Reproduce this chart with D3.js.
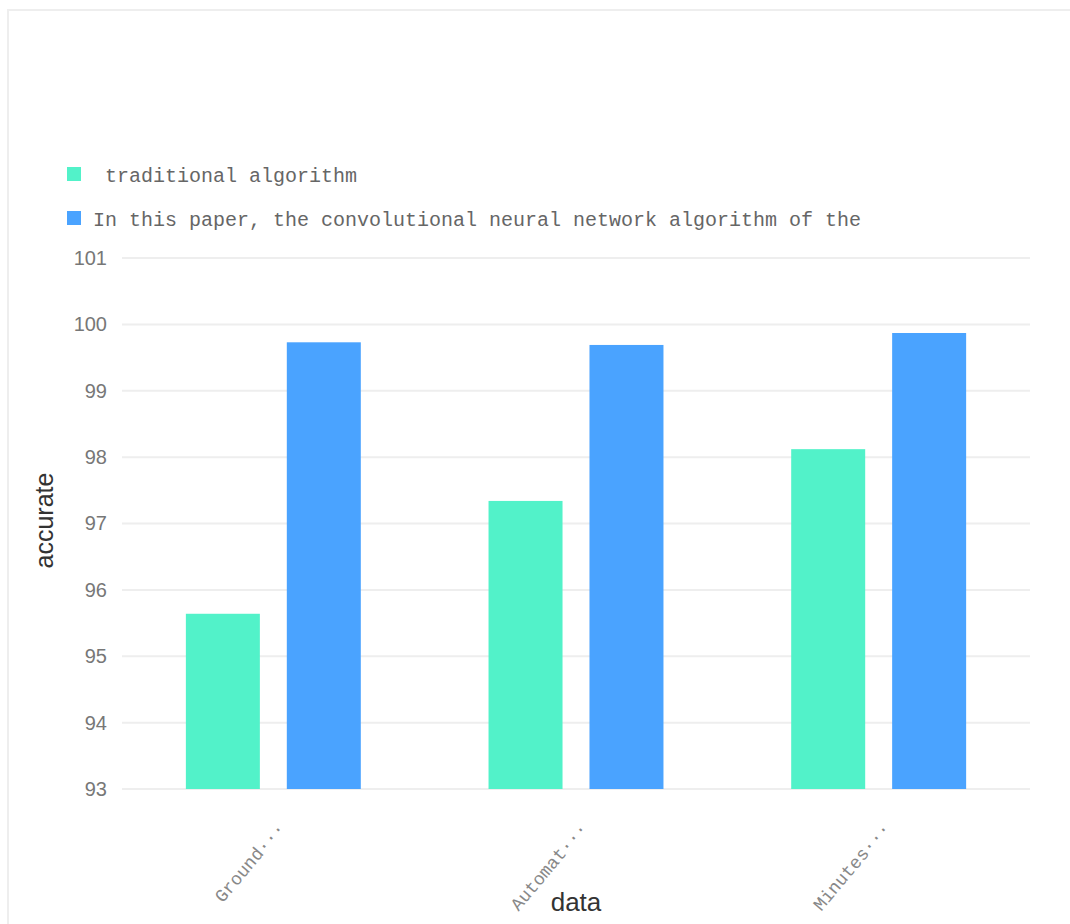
<!DOCTYPE html>
<html><head><meta charset="utf-8">
<script src="https://cdn.jsdelivr.net/npm/d3@7"></script>
<style>body{margin:0;background:#fff;}svg{display:block;}</style>
</head><body>
<svg id="chart" width="1070" height="924"></svg>
<script>
const categories = ["Ground\u00B7\u00B7\u00B7", "Automat\u00B7\u00B7\u00B7", "Minutes\u00B7\u00B7\u00B7"];
const seriesNames = [" traditional algorithm", "In this paper, the convolutional neural network algorithm of the"];
const traditional = [95.64, 97.34, 98.12];
const proposed = [99.73, 99.69, 99.87];
const yTicks = [93, 94, 95, 96, 97, 98, 99, 100, 101];
const colors = ["#52f2c9", "#4aa3ff"];

const svg = d3.select("#chart");
svg.append("rect").attr("x", 8).attr("y", 10).attr("width", 1070).attr("height", 930)
  .attr("fill", "none").attr("stroke", "#eeeeee").attr("stroke-width", 2);

const pLeft = 122, pRight = 1030, pTop = 258, pBottom = 789;
const y = d3.scaleLinear().domain([93, 101]).range([pBottom, pTop]);
const x0 = d3.scaleBand().domain(categories).range([pLeft, pRight]).paddingInner(0.422).paddingOuter(0.211);
const x1 = d3.scaleBand().domain([0, 1]).range([0, x0.bandwidth()]).paddingInner(0.267);

// grid
svg.append("g").selectAll("line").data(yTicks).join("line")
  .attr("x1", pLeft).attr("x2", pRight)
  .attr("y1", d => y(d)).attr("y2", d => y(d))
  .attr("stroke", "#eeeeee").attr("stroke-width", 2);

// y axis labels
const yAxis = d3.axisLeft(y).tickValues(yTicks).tickSize(0).tickPadding(15);
const ya = svg.append("g").attr("transform", `translate(${pLeft},0)`).call(yAxis);
ya.select(".domain").remove();
ya.selectAll("text").attr("font-family", "Arial, 'Liberation Sans', sans-serif")
  .attr("font-size", 20).attr("fill", "#777");

// bars
const series = [traditional, proposed];
const groups = svg.append("g").selectAll("g").data(categories).join("g")
  .attr("transform", d => `translate(${x0(d)},0)`);
groups.selectAll("rect").data((d, i) => series.map((s, j) => ({ j, v: s[i] }))).join("rect")
  .attr("x", d => x1(d.j)).attr("width", x1.bandwidth())
  .attr("y", d => y(d.v)).attr("height", d => y(93) - y(d.v))
  .attr("fill", d => colors[d.j]);

// x axis labels
const xAxis = d3.axisBottom(x0).tickSize(0).tickPadding(0);
const xa = svg.append("g").attr("transform", `translate(0,${pBottom})`).call(xAxis);
xa.select(".domain").remove();
xa.selectAll("text")
  .attr("font-family", "'Liberation Mono', 'DejaVu Sans Mono', monospace")
  .attr("font-size", 18).attr("fill", "#888")
  .attr("text-anchor", "end")
  .attr("dy", 0)
  .attr("transform", "translate(12,40) rotate(-50)");

// axis titles
svg.append("text").attr("transform", `translate(53,${(pTop + pBottom) / 2 - 3}) rotate(-90)`)
  .attr("text-anchor", "middle").attr("font-family", "Arial, 'Liberation Sans', sans-serif")
  .attr("font-size", 25).attr("fill", "#333").text("accurate");
svg.append("text").attr("x", (pLeft + pRight) / 2).attr("y", 911)
  .attr("text-anchor", "middle").attr("font-family", "Arial, 'Liberation Sans', sans-serif")
  .attr("font-size", 26).attr("fill", "#333").text("data");

// legend
const lg = svg.append("g").selectAll("g").data(seriesNames).join("g")
  .attr("transform", (d, i) => `translate(67,${167 + i * 44})`);
lg.append("rect").attr("width", 14).attr("height", 14).attr("fill", (d, i) => colors[i]);
lg.append("text").attr("x", 26).attr("y", 15).attr("xml:space", "preserve")
  .style("white-space", "pre")
  .attr("font-family", "'Liberation Mono', 'DejaVu Sans Mono', monospace")
  .attr("font-size", 20).attr("fill", "#666").text(d => d);
</script>
</body></html>
